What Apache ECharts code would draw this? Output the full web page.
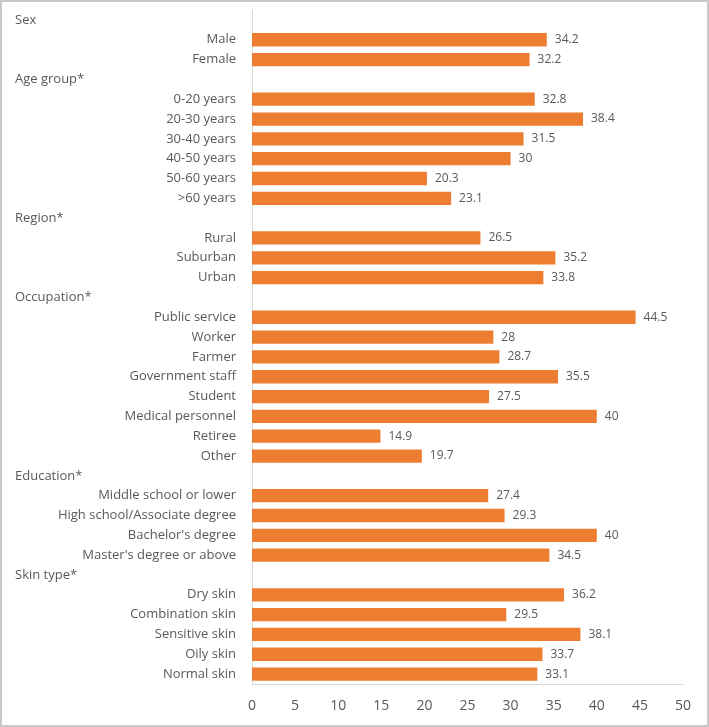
<!DOCTYPE html>
<html>
<head>
<meta charset="utf-8">
<script src="https://cdn.jsdelivr.net/npm/echarts@6/dist/echarts.min.js"></script>
<style>
html,body{margin:0;padding:0;background:#fff;}
#chart{width:709px;height:727px;}
</style>
</head>
<body>
<div id="chart"></div>
<script>
const categories = [
  'Sex','Male','Female',
  'Age group*','0-20 years','20-30 years','30-40 years','40-50 years','50-60 years','>60 years',
  'Region*','Rural','Suburban','Urban',
  'Occupation*','Public service','Worker','Farmer','Government staff','Student','Medical personnel','Retiree','Other',
  'Education*','Middle school or lower','High school/Associate degree',"Bachelor's degree","Master's degree or above",
  'Skin type*','Dry skin','Combination skin','Sensitive skin','Oily skin','Normal skin'
];
const headers = ['Sex','Age group*','Region*','Occupation*','Education*','Skin type*'];
const values = [
  null,34.2,32.2,
  null,32.8,38.4,31.5,30,20.3,23.1,
  null,26.5,35.2,33.8,
  null,44.5,28,28.7,35.5,27.5,40,14.9,19.7,
  null,27.4,29.3,40,34.5,
  null,36.2,29.5,38.1,33.7,33.1
];
const xTicks = [0,5,10,15,20,25,30,35,40,45,50];

const font = "'Open Sans', 'Liberation Sans', sans-serif";
const chart = echarts.init(document.getElementById('chart'), null, {renderer:'canvas'});
chart.setOption({
  animation:false,
  backgroundColor:'#fff',
  graphic:[{type:'rect',shape:{x:1,y:1,width:707,height:725},style:{fill:'none',stroke:'#c9c9c9',lineWidth:2},silent:true}],
  grid:{left:252,right:26,top:10,bottom:43,containLabel:false},
  xAxis:{
    type:'value',min:xTicks[0],max:xTicks[xTicks.length-1],interval:5,
    axisLine:{show:true,lineStyle:{color:'#d9d9d9',width:1}},
    axisTick:{show:false},
    splitLine:{show:false},
    axisLabel:{color:'#595959',fontFamily:font,fontSize:14,margin:15}
  },
  yAxis:{
    type:'category',inverse:true,data:categories,
    axisLine:{show:true,lineStyle:{color:'#d9d9d9',width:1}},
    axisTick:{show:false},
    axisLabel:{
      interval:0,margin:16,color:'#595959',fontFamily:font,fontSize:13,
      formatter:function(v){ return headers.indexOf(v)>=0 ? '{h|'+v+'}' : v; },
      rich:{h:{width:221,align:'left',color:'#595959',fontFamily:font,fontSize:13}}
    }
  },
  series:[{
    type:'bar',data:values,barCategoryGap:'33%',
    itemStyle:{color:'#ED7D31'},
    label:{show:true,position:'right',distance:8,color:'#595959',fontFamily:font,fontSize:12}
  }]
});
</script>
</body>
</html>
